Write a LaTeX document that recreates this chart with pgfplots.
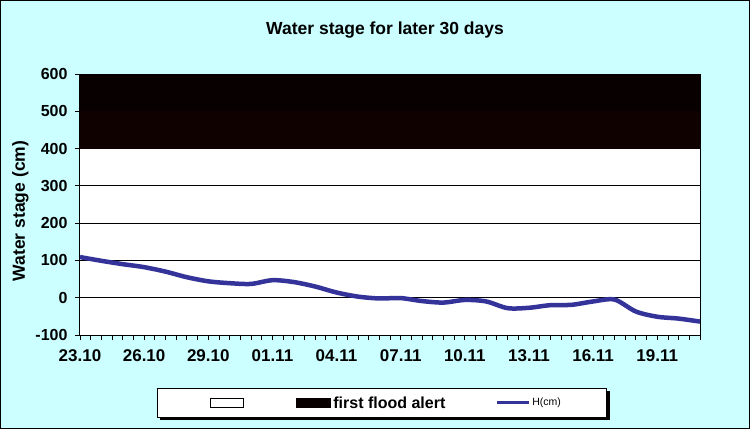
\documentclass[border=0pt]{standalone}
\usepackage{fontspec}
\setmainfont{Liberation Sans}
\usepackage{pgfplots}
\pgfplotsset{compat=1.18}
\definecolor{bgcyan}{RGB}{204,255,255}
\definecolor{hblue}{RGB}{51,51,153}
\definecolor{floodA}{RGB}{8,0,0}
\definecolor{floodB}{RGB}{16,1,1}
\begin{document}
\begin{tikzpicture}
\fill[bgcyan] (-80pt,-94pt) rectangle (670pt,335pt);
\draw[black,line width=1pt] (-79.5pt,-93.5pt) rectangle (669.5pt,334.5pt);
% legend shadow
\fill[black] (80pt,-85pt) rectangle (530pt,-56pt);
\begin{axis}[
  at={(0pt,0pt)}, anchor=south west,
  scale only axis, width=620pt, height=261pt,
  xmin=0, xmax=29, ymin=-100, ymax=600,
  no markers,
  axis background/.style={fill=white},
  axis line style={black, line width=1pt},
  xtick={0,3,...,27},
  xticklabels={23.10,26.10,29.10,01.11,04.11,07.11,10.11,13.11,16.11,19.11},
  minor xtick={0,0.5,...,29},
  ytick={-100,0,...,600},
  ymajorgrids,
  major grid style={black, line width=0.8pt},
  tick align=outside, tick pos=left,
  major tick length=5pt, minor tick length=5pt,
  tick style={black, line width=0.8pt},
  /pgf/number format/assume math mode=true,
  yticklabel style={font=\fontsize{16}{16}\selectfont\bfseries, xshift=-4pt},
  xticklabel style={font=\fontsize{17}{17}\selectfont\bfseries, yshift=-6pt},
  title={Water stage for later 30 days},
  title style={font=\fontsize{17.5}{18}\selectfont\bfseries, at={(axis description cs:0.492,1.145)}, anchor=center},
  ylabel={Water stage (cm)},
  ylabel style={font=\fontsize{17.5}{18}\selectfont\bfseries, at={(axis description cs:-0.096,0.475)}, anchor=center},
  legend columns=3,
  legend style={at={(axis description cs:0.124,-0.203)}, anchor=north west,
    draw=black, line width=1pt, fill=white,
    inner xsep=44pt, inner ysep=5pt,
    nodes={inner xsep=2pt, inner ysep=3pt},
    font=\fontsize{16}{16}\selectfont\bfseries,
    /tikz/every even column/.append style={column sep=48pt},
    /tikz/every odd column/.append style={column sep=0pt}},
]
\addlegendimage{legend image code/.code={\path (0pt,0pt); \draw[black,line width=1pt,fill=white] (9pt,-4.5pt) rectangle (42pt,4.5pt);}}
\addlegendentry{}
\addplot[fill=floodA, draw=none,
  legend image code/.code={\fill[floodA] (0pt,-5pt) rectangle (35pt,5pt);}]
  coordinates {(0,400) (0,600) (29,600) (29,400)};
\addlegendentry{first flood alert}
\addplot[fill=floodB, draw=none, forget plot]
  coordinates {(0,400) (0,500) (29,500) (29,400)};
\addplot[hblue, line width=4.5pt, smooth,
  legend image code/.code={\draw[hblue,line width=3pt] (0pt,1pt) -- (32pt,1pt);}]
  coordinates {
  (0,109) (1,99) (2,90) (3,82) (4,70) (5,55) (6,44) (7,39) (8,37) (9,47)
  (10,42) (11,30) (12,14) (13,3) (14,-2) (15,-1) (16,-9) (17,-13) (18,-6) (19,-10)
  (20,-28) (21,-27) (22,-20) (23,-19) (24,-10) (25,-5) (26,-37) (27,-51) (28,-56) (29,-64)
  };
\addlegendentry{\raisebox{1.5pt}{\fontsize{10.5}{10.5}\selectfont\mdseries H(cm)}}
\end{axis}
\end{tikzpicture}
\end{document}
